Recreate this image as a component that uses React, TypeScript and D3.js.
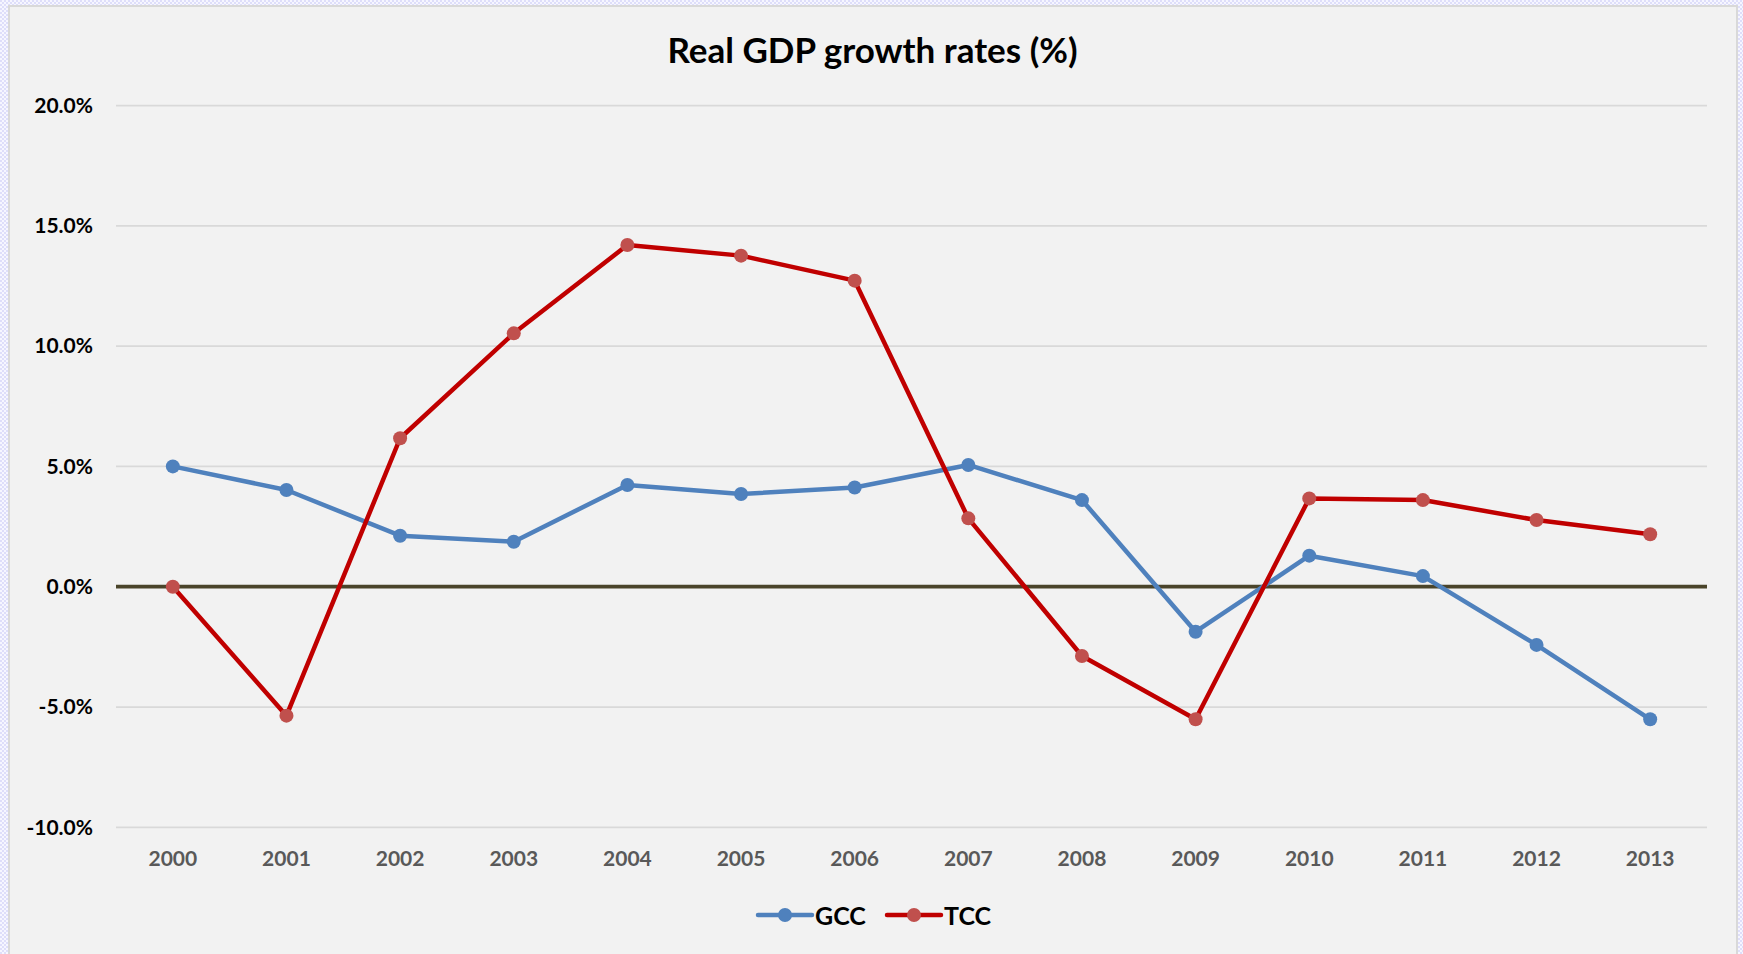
import React from "react";
import * as d3 from "d3";

const years = ["2000","2001","2002","2003","2004","2005","2006","2007","2008","2009","2010","2011","2012","2013"];
const gcc = [5.0, 4.02, 2.12, 1.87, 4.23, 3.85, 4.12, 5.06, 3.6, -1.87, 1.29, 0.44, -2.42, -5.51];
const tcc = [0.0, -5.36, 6.17, 10.53, 14.2, 13.76, 12.72, 2.84, -2.88, -5.51, 3.67, 3.6, 2.77, 2.18];
const yTicks = [-10, -5, 0, 5, 10, 15, 20];
const seriesNames = ["GCC", "TCC"];

const W = 1743, H = 954;
const plot = { left: 116, right: 1707, top: 105.5, bottom: 827.3 };
const FONT = "Lato, 'Open Sans', sans-serif";

export default function App() {
  const x = d3.scaleBand<string>().domain(years).range([plot.left, plot.right]);
  const y = d3.scaleLinear().domain([-10, 20]).range([plot.bottom, plot.top]);
  const cx = (yr: string) => (x(yr) as number) + x.bandwidth() / 2;
  const line = d3.line<number>().x((_, i) => cx(years[i])).y((d) => y(d));
  const series = [
    { name: seriesNames[0], data: gcc, stroke: "#4f81bd", fill: "#4f81bd" },
    { name: seriesNames[1], data: tcc, stroke: "#c00000", fill: "#c0504d" },
  ];
  const legend = [
    { x0: 758, x1: 812, mx: 785, tx: 815 },
    { x0: 887, x1: 941, mx: 914, tx: 944 },
  ];
  return (
    <svg width={W} height={H} style={{ position: "absolute", left: 0, top: 0, display: "block" }}>
      <defs>
        <pattern id="chk" width="4" height="4" patternUnits="userSpaceOnUse">
          <rect width="4" height="4" fill="#f6f6ff" />
          <rect width="2" height="2" fill="#dedefa" />
          <rect x="2" y="2" width="2" height="2" fill="#dedefa" />
        </pattern>
      </defs>
      <rect width={W} height={H} fill="url(#chk)" />
      <rect x={9} y={6} width={1728} height={960} fill="#f2f2f2" stroke="#d9d9d9" strokeWidth={2} />
      <text x={872.5} y={63} textAnchor="middle" fontFamily={FONT} fontWeight={700} fontSize={35} fill="#000">
        Real GDP growth rates (%)
      </text>
      {yTicks.filter((t) => t !== 0).map((t) => (
        <line key={"g" + t} x1={plot.left} x2={plot.right} y1={y(t)} y2={y(t)} stroke="#d9d9d9" strokeWidth={1.75} />
      ))}
      <line x1={plot.left} x2={plot.right} y1={y(0)} y2={y(0)} stroke="#4a442a" strokeWidth={3.75} />
      {yTicks.map((t) => (
        <text key={"t" + t} x={93} y={y(t)} dy="0.35em" textAnchor="end" fontFamily={FONT} fontWeight={700} fontSize={21} fill="#000">
          {t.toFixed(1) + "%"}
        </text>
      ))}
      {years.map((yr) => (
        <text key={yr} x={cx(yr)} y={866} textAnchor="middle" fontFamily={FONT} fontWeight={700} fontSize={21} fill="#595959">
          {yr}
        </text>
      ))}
      {series.map((s) => (
        <g key={s.name}>
          <path d={line(s.data) || ""} fill="none" stroke={s.stroke} strokeWidth={4.5} strokeLinejoin="round" strokeLinecap="round" />
          {s.data.map((v, i) => (
            <circle key={i} cx={cx(years[i])} cy={y(v)} r={7} fill={s.fill} />
          ))}
        </g>
      ))}
      {series.map((s, i) => (
        <g key={"l" + s.name}>
          <line x1={legend[i].x0} x2={legend[i].x1} y1={915} y2={915} stroke={s.stroke} strokeWidth={4.5} strokeLinecap="round" />
          <circle cx={legend[i].mx} cy={915} r={7} fill={s.fill} />
          <text x={legend[i].tx} y={924.5} fontFamily={FONT} fontWeight={700} fontSize={25} fill="#000">
            {s.name}
          </text>
        </g>
      ))}
    </svg>
  );
}
